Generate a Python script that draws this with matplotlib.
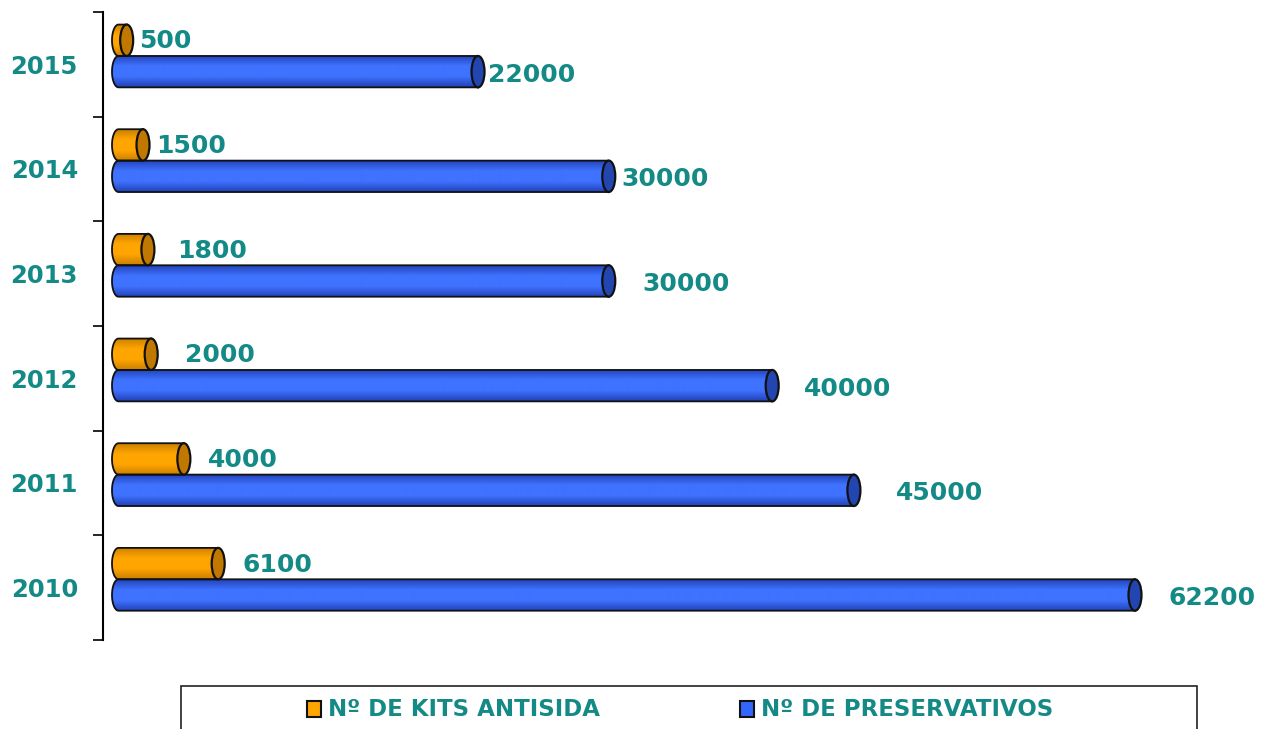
import numpy as np
import matplotlib.pyplot as plt
from matplotlib.patches import Ellipse, Rectangle, PathPatch
from matplotlib.path import Path
from matplotlib.colors import LinearSegmentedColormap

years = ['2010', '2011', '2012', '2013', '2014', '2015']
kits = [6100, 4000, 2000, 1800, 1500, 500]
preservativos = [62200, 45000, 40000, 30000, 30000, 22000]
legend_labels = ['Nº DE KITS ANTISIDA', 'Nº DE PRESERVATIVOS']

# label gaps after each bar end, in pixels (2010 -> 2015)
kits_pad = [24, 24, 34, 29, 13, 12]
pres_pad = [33, 42, 32, 34, 13, 10]

teal = '#148A86'
W, H = 1268, 729
x0_px = 118.5
px = 62200 / (1135 - x0_px)  # data units per pixel

fig = plt.figure(figsize=(W / 100, H / 100), dpi=100)
ax = fig.add_axes([103 / W, 1 - 640 / H, 1 - 103 / W, (640 - 12) / H])


def grad_cmap(light, dark):
    return LinearSegmentedColormap.from_list('g', [dark, light, light, dark])


def cylinder(y0, h, value, light, dark, cap):
    cw = 13 * px
    # body: left rounded end + straight part
    t = np.linspace(np.pi / 2, 3 * np.pi / 2, 30)
    lx = cw / 2 * np.cos(t)
    ly = y0 + h / 2 + h / 2 * np.sin(t)
    verts = [(value, y0 + h)] + list(zip(lx, ly)) + [(value, y0), (value, y0 + h)]
    codes = [Path.MOVETO] + [Path.LINETO] * (len(verts) - 2) + [Path.CLOSEPOLY]
    body = PathPatch(Path(verts, codes), facecolor='none', edgecolor='#111111', lw=1.3, zorder=3)
    ax.add_patch(body)
    grad = np.linspace(0, 1, 64).reshape(-1, 1)
    im = ax.imshow(grad, cmap=grad_cmap(light, dark), aspect='auto',
                   extent=(-cw / 2, value, y0, y0 + h), origin='lower', zorder=2)
    im.set_clip_path(body)
    ax.add_patch(Ellipse((value, y0 + h / 2), cw, h, facecolor=cap,
                         edgecolor='#111111', lw=1.6, zorder=4))


bar_h = 0.30
for i in range(len(years)):
    yb = i + 0.28
    yo = i + 0.58
    cylinder(yb, bar_h, preservativos[i], '#3F72FF', '#2243B8', '#2345B0')
    cylinder(yo, bar_h, kits[i], '#FFA500', '#CC8000', '#C07800')
    ax.text(preservativos[i] + pres_pad[i] * px, yb + bar_h / 2 - 0.03, str(preservativos[i]),
            color=teal, fontsize=18, fontweight='bold', va='center', ha='left')
    ax.text(kits[i] + kits_pad[i] * px, yo + bar_h / 2 - 0.01, str(kits[i]),
            color=teal, fontsize=18, fontweight='bold', va='center', ha='left')

ax.set_xlim(-(x0_px - 103) * px, (W - x0_px) * px)
ax.set_ylim(0, 6)

for s in ['top', 'right', 'bottom']:
    ax.spines[s].set_visible(False)
ax.spines['left'].set_linewidth(1.5)
ax.set_xticks([])
ax.set_yticks(range(7))
ax.set_yticklabels([])
ax.tick_params(axis='y', which='major', length=7, width=1.2, direction='out')
ax.set_yticks(np.arange(6) + 0.5, minor=True)
ax.set_yticklabels(years, minor=True)
ax.tick_params(axis='y', which='minor', length=0, pad=18, labelsize=17.5,
               labelcolor=teal)
for lab in ax.get_yticklabels(minor=True):
    lab.set_fontweight('bold')
ax.patch.set_alpha(0)

# legend box
fig.patches.append(Rectangle((181 / W, 1 - 740 / H), (1197 - 181) / W, 54 / H,
                             transform=fig.transFigure, facecolor='white',
                             edgecolor='#222222', lw=1.2))
for lab, c, x0 in zip(legend_labels, ['#FFA500', '#3366FF'], [307, 740]):
    fig.patches.append(Rectangle((x0 / W, 1 - 717 / H), 14 / W, 16 / H,
                                 transform=fig.transFigure, facecolor=c,
                                 edgecolor='#111111', lw=1.5))
    fig.text((x0 + 21) / W, 1 - 709 / H, lab, color=teal, fontsize=16.5,
             fontweight='bold', va='center', ha='left')

fig.savefig('out.png', dpi=100)
